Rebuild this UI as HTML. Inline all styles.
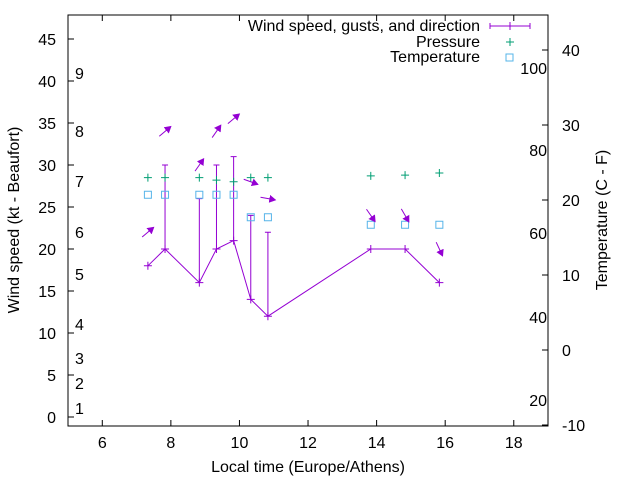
<!DOCTYPE html>
<html><head><meta charset="utf-8"><style>
body{margin:0;background:#fff}
svg{display:block;font-family:"Liberation Sans",sans-serif;font-size:16px}
</style></head><body>
<svg id="chart" width="640" height="480">
<defs><marker id="ah" markerWidth="8" markerHeight="8" refX="6" refY="4" orient="auto" markerUnits="userSpaceOnUse"><path d="M0,0 L7,4 L0,8 Z" fill="#9400d3"/></marker></defs>
<rect x="68" y="15" width="480" height="411" fill="none" stroke="#000"/>
<g id="axes"></g><g id="marks"></g>
<text x="0" y="0" transform="translate(19,220) rotate(-90)" text-anchor="middle">Wind speed (kt - Beaufort)</text>
<text x="0" y="0" transform="translate(607,220) rotate(-90)" text-anchor="middle">Temperature (C - F)</text>
<text x="308" y="472" text-anchor="middle">Local time (Europe/Athens)</text>
<g>
<text x="480" y="31" text-anchor="end">Wind speed, gusts, and direction</text>
<path d="M490,26H530M490,23V29M530,23V29M510,22V30" stroke="#9400d3" fill="none"/>
<text x="480" y="47" text-anchor="end">Pressure</text>
<path d="M506,42H514M510,38V46" stroke="#009e73"/>
<text x="480" y="62" text-anchor="end">Temperature</text>
<rect x="506" y="54" width="7" height="7" fill="none" stroke="#56b4e9"/>
</g>
</svg>
<script>
const times=[7.33,7.83,8.83,9.33,9.83,10.33,10.83,13.83,14.83,15.83];
const wind=[18,20,16,20,21,14,12,20,20,16];
const gusts=[null,30,26,30,31,24,22,null,null,null];
const pressure=[28.5,28.5,28.5,28.2,28.0,28.5,28.5,28.7,28.8,29.05];
const temperature=[20.7,20.7,20.7,20.7,20.7,17.7,17.7,16.7,16.7,16.7];
const arrowY=[22,34,30,34,35.5,28,26,24,24,20];
const arrowDir=[40,40,55,55,40,-20,-10,-55,-60,-65];
const xTicks=[6,8,10,12,14,16,18];
const yTicks=[0,5,10,15,20,25,30,35,40,45];
const y2Ticks=[-10,0,10,20,30,40];
const beaufort=[[1,408],[2,383],[3,358],[4,324],[5,274],[6,232],[7,181],[8,131],[9,73]];
const fLabels=[[20,400],[40,317],[60,233],[80,150],[100,68]];
const X=v=>68+(v-5)*34.29, Y=v=>417-v*8.4, Y2=v=>350-v*7.5;
const NS="http://www.w3.org/2000/svg";
function mk(tag,attrs,parent,txt){const e=document.createElementNS(NS,tag);for(const k in attrs)e.setAttribute(k,attrs[k]);if(txt!=null)e.textContent=txt;document.getElementById(parent).appendChild(e);return e;}
xTicks.forEach(t=>{const x=X(t);
 const a=mk('path',{d:`M${x},426v-6M${x},15v6`,stroke:'#000'},'axes');
 const l=mk('text',{x:x,y:448,'text-anchor':'middle'},'axes',t);});
yTicks.forEach(t=>{const y=Y(t);
 const a=mk('path',{d:`M68,${y}h6`,stroke:'#000'},'axes');
 const l=mk('text',{x:56,y:y+6,'text-anchor':'end'},'axes',t);});
y2Ticks.forEach(t=>{const y=Y2(t);
 const a=mk('path',{d:`M548,${y}h-6`,stroke:'#000'},'axes');
 const l=mk('text',{x:562,y:y+6},'axes',t);});
beaufort.forEach(([b,y])=>{const l=mk('text',{x:75,y:y+6},'axes',b);});
fLabels.forEach(([f,y])=>{const l=mk('text',{x:547,y:y+6,'text-anchor':'end'},'axes',f);});
const C='#9400d3';
const ln=mk('polyline',{points:times.map((t,i)=>X(t)+','+Y(wind[i])).join(' '),fill:'none',stroke:C},'marks');

times.forEach((t,i)=>{const x=X(t),y=Y(wind[i]);
 const p=mk('path',{d:`M${x-4},${y}h8M${x},${y-4}v8`,stroke:C},'marks');
 if(gusts[i]!=null){const g=Y(gusts[i]);const e=mk('path',{d:`M${x},${y}V${g}M${x-3},${g}h6`,stroke:C,fill:'none'},'marks');}
 const py=Y(pressure[i]);const q=mk('path',{d:`M${x-4},${py}h8M${x},${py-4}v8`,stroke:'#009e73'},'marks');
 const ty=Y2(temperature[i]);const s=mk('rect',{x:x-3.5,y:ty-3.5,width:7,height:7,fill:'none',stroke:'#56b4e9'},'marks');
 const ay=Y(arrowY[i]),r=arrowDir[i]*Math.PI/180,dx=7.5*Math.cos(r),dy=-7.5*Math.sin(r);
 const a=mk('line',{x1:x-dx,y1:ay-dy,x2:x+dx,y2:ay+dy,stroke:C,'marker-end':'url(#ah)'},'marks');
});
</script>
</body></html>
